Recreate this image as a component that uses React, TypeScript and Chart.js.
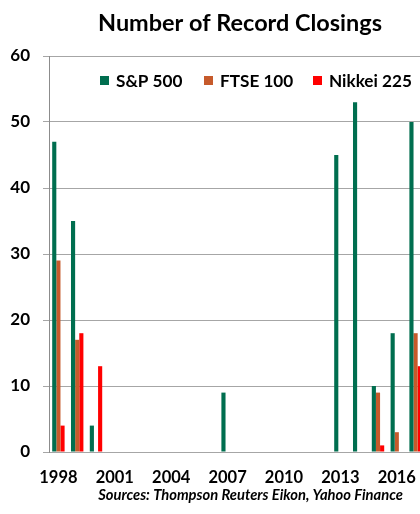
import React, { useEffect, useRef } from "react";
import { Chart, registerables } from "chart.js";

Chart.register(...registerables);

const years: string[] = [
  "1998", "1999", "2000", "2001", "2002", "2003", "2004", "2005", "2006", "2007",
  "2008", "2009", "2010", "2011", "2012", "2013", "2014", "2015", "2016", "2017",
];
const sp500: number[] = [47, 35, 4, 0, 0, 0, 0, 0, 0, 9, 0, 0, 0, 0, 0, 45, 53, 10, 18, 50];
const ftse100: number[] = [29, 17, 0, 0, 0, 0, 0, 0, 0, 0, 0, 0, 0, 0, 0, 0, 0, 9, 3, 18];
const nikkei225: number[] = [4, 18, 13, 0, 0, 0, 0, 0, 0, 0, 0, 0, 0, 0, 0, 0, 0, 1, 0, 13];
const yTicks: number[] = [0, 10, 20, 30, 40, 50, 60];
const titleText = "Number of Record Closings";
const sourceText = "Sources: Thompson Reuters Eikon, Yahoo Finance";

const FONT = "Lato, 'Open Sans', sans-serif";

function fitSize(ctx: any, text: string, target: number, base: number, style: string) {
  ctx.font = `${style} ${base}px ${FONT}`;
  const w = ctx.measureText(text).width;
  if (!w) return base;
  const s = (base * target) / w;
  return Math.max(base * 0.85, Math.min(base * 1.2, s));
}

const overlayPlugin = {
  id: "overlay",
  afterDraw(chart: any) {
    const ctx = chart.ctx;
    ctx.save();
    ctx.textBaseline = "middle";
    // title
    ctx.fillStyle = "#000";
    const ts = fitSize(ctx, titleText, 284, 21, "bold");
    ctx.font = `bold ${ts}px ${FONT}`;
    ctx.textAlign = "center";
    ctx.fillText(titleText, 240, 23);
    // legend
    const items = chart.data.datasets;
    const starts = [100, 204, 313];
    const widths = [67, 72, 84];
    let sum = 0;
    items.forEach((ds: any, i: number) => {
      sum += fitSize(ctx, ds.label, widths[i], 17, "bold");
    });
    const ls = sum / items.length;
    ctx.font = `bold ${ls}px ${FONT}`;
    ctx.textAlign = "left";
    items.forEach((ds: any, i: number) => {
      const x = starts[i];
      ctx.fillStyle = ds.backgroundColor;
      ctx.fillRect(x, 76, 9, 9);
      ctx.fillStyle = "#000";
      ctx.fillText(ds.label, x + 16, 81);
    });
    // source
    const ss = fitSize(ctx, sourceText, 305, 14.5, "italic bold");
    ctx.font = `italic bold ${ss}px ${FONT}`;
    ctx.textAlign = "center";
    ctx.fillText(sourceText, 250.5, 495);
    ctx.restore();
  },
};

export default function App() {
  const ref = useRef<HTMLCanvasElement>(null);
  useEffect(() => {
    if (!ref.current) return;
    const chart = new Chart(ref.current, {
      type: "bar",
      data: {
        labels: years,
        datasets: [
          { label: "S&P 500", data: sp500, backgroundColor: "#006E4F" },
          { label: "FTSE 100", data: ftse100, backgroundColor: "#C65A2B" },
          { label: "Nikkei 225", data: nikkei225, backgroundColor: "#FF0000" },
        ],
      },
      options: {
        responsive: false,
        animation: false,
        layout: { padding: { left: 0, right: 55, top: 56, bottom: 0 } },
        datasets: {
          bar: { categoryPercentage: 0.66, barPercentage: 1.0 },
        },
        plugins: {
          legend: { display: false },
          tooltip: { enabled: false },
          title: { display: false },
        },
        scales: {
          x: {
            grid: { display: false, drawTicks: false },
            border: { display: true, color: "#A6A6A6" },
            ticks: {
              autoSkip: false,
              maxRotation: 0,
              padding: 16,
              color: "#000",
              font: { family: FONT, size: 16.5, weight: "bold" },
              callback: (_v: any, i: number) => (i % 3 === 0 ? years[i] : ""),
            },
            afterFit: (s: any) => {
              s.height = 62;
            },
          },
          y: {
            min: 0,
            max: 60,
            afterBuildTicks: (s: any) => {
              s.ticks = yTicks.map((v) => ({ value: v }));
            },
            grid: { color: "#A6A6A6", tickLength: 6, drawTicks: true },
            border: { display: true, color: "#8C8C8C" },
            ticks: {
              padding: 13,
              color: "#000",
              font: { family: FONT, size: 17, weight: "bold" },
            },
            afterFit: (s: any) => {
              s.width = 49;
            },
          },
        },
      },
      plugins: [overlayPlugin],
    } as any);
    return () => chart.destroy();
  }, []);
  return (
    <div style={{ position: "fixed", left: 0, top: 0, width: 420, height: 514, overflow: "hidden", background: "#fff" }}>
      <canvas ref={ref} width={480} height={514} style={{ width: 480, height: 514, display: "block" }} />
    </div>
  );
}
